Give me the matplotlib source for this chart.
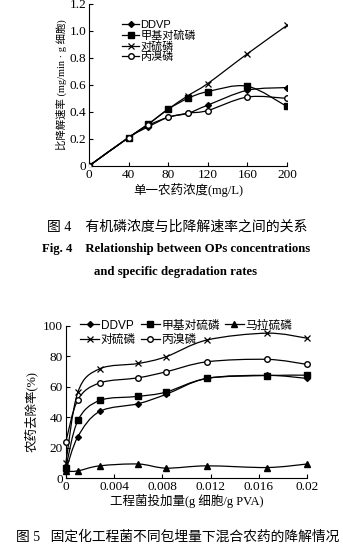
import numpy as np
import matplotlib
matplotlib.use('Agg')
from matplotlib import pyplot as plt
from matplotlib.path import Path
from matplotlib.patches import PathPatch
from matplotlib.lines import Line2D

plt.rcParams['font.family'] = ['Liberation Serif', 'Noto Sans CJK SC', 'DejaVu Sans']

# Fig.4 data
conc = [0, 40, 60, 80, 100, 120, 160, 200]
ddvp4 = [0, 0.21, 0.29, 0.36, 0.39, 0.45, 0.56, 0.58]
mps4 = [0, 0.21, 0.31, 0.42, 0.50, 0.55, 0.59, 0.44]
ps4 = [0, 0.21, 0.31, 0.42, 0.52, 0.61, 0.83, 1.04]
prof4 = [0, 0.21, 0.30, 0.36, 0.39, 0.41, 0.51, 0.50]
names4 = ['DDVP', '甲基对硫磷', '对硫磷', '丙溴磷']

# Fig.5 data
dose = [0, 0.001, 0.0028, 0.006, 0.0083, 0.0117, 0.0167, 0.02]
ddvp5 = [5, 27.3, 43.8, 48.9, 55, 65.5, 67.5, 65.5]
mps5 = [7, 37.9, 51, 53.7, 56.5, 65.5, 67.4, 67.6]
mal5 = [4.4, 4.8, 8.1, 9.3, 6.6, 8.1, 7, 9.3]
ps5 = [10, 56.6, 71.8, 75.3, 79.7, 90.7, 95.2, 91.9]
prof5 = [24, 51.5, 62.5, 65.9, 69.8, 76.4, 78, 74.7]
names5 = ['DDVP', '甲基对硫磷', '马拉硫磷', '对硫磷', '丙溴磷']

x_ticks4 = [0, 40, 80, 120, 160, 200]
y_ticks4 = [0, 0.2, 0.4, 0.6, 0.8, 1.0, 1.2]
y_labels4 = ['0', '0.2', '0.4', '0.6', '0.8', '1.0', '1.2']
x_ticks5 = [0, 0.004, 0.008, 0.012, 0.016, 0.02]
x_labels5 = ['0', '0.004', '0.008', '0.012', '0.016', '0.02']
y_ticks5 = [0, 20, 40, 60, 80, 100]


def smooth(ax, x, y, **kw):
    # Excel-like smoothed line drawn as cubic bezier segments
    x = np.asarray(x, float)
    y = np.asarray(y, float)
    verts = [(x[0], y[0])]
    codes = [Path.MOVETO]
    t = 1 / 6
    n = len(x)
    for i in range(n - 1):
        x0, y0 = (x[i - 1], y[i - 1]) if i > 0 else (x[i], y[i])
        x3, y3 = (x[i + 2], y[i + 2]) if i + 2 < n else (x[i + 1], y[i + 1])
        c1 = (x[i] + (x[i + 1] - x0) * t, y[i] + (y[i + 1] - y0) * t)
        c2 = (x[i + 1] - (x3 - x[i]) * t, y[i + 1] - (y3 - y[i]) * t)
        verts += [c1, c2, (x[i + 1], y[i + 1])]
        codes += [Path.CURVE4] * 3
    ax.add_patch(PathPatch(Path(verts, codes), fill=False, lw=0.9, color='black', **kw))


def style(ax):
    for s in ['top', 'right']:
        ax.spines[s].set_visible(False)
    ax.tick_params(direction='in', length=3, width=0.8, labelsize=9.5, pad=2)


fig = plt.figure(figsize=(3.43, 5.44), dpi=100)

# ---- Fig 4
ax1 = fig.add_axes([0.2595, 0.695, 0.577, 0.298])
marks4 = [dict(marker='D', ms=3, mfc='black'),
          dict(marker='s', ms=4, mfc='black'),
          dict(marker='x', ms=4, mew=0.9),
          dict(marker='o', ms=4, mfc='white')]
handles = []
for ys, m in zip([ddvp4, mps4, ps4, prof4], marks4):
    smooth(ax1, conc, ys)
    ax1.plot(conc, ys, ls='none', color='black', zorder=3, **m)
    handles.append(Line2D([], [], color='black', lw=0.9, **m))
ax1.set_xlim(0, 200)
ax1.set_ylim(0, 1.2)
ax1.set_xticks(x_ticks4)
ax1.set_yticks(y_ticks4)
ax1.set_yticklabels(y_labels4)
style(ax1)
leg = ax1.legend(handles, names4, loc='upper left', bbox_to_anchor=(0.14, 0.935), frameon=False,
                 fontsize=8, handlelength=1.5, handletextpad=0.15, labelspacing=0.0,
                 borderpad=0)
for t in leg.get_texts():
    t.set_family(['Liberation Sans', 'Noto Sans CJK SC'])
ax1.set_ylabel('比降解速率 (mg/min · g 细胞)', fontsize=7.5, labelpad=4)
ax1.yaxis.set_label_coords(-0.11, 0.5)
ax1.set_xlabel('单一农药浓度(mg/L)', fontsize=9, labelpad=2)

fig.text(0.516, 0.583, '图 4    有机磷浓度与比降解速率之间的关系', ha='center', va='center', fontsize=10)
fig.text(0.122, 0.542, 'Fig. 4    Relationship between OPs concentrations', ha='left', va='center',
         fontsize=9.2, fontweight='bold')
fig.text(0.513, 0.5, 'and specific degradation rates', ha='center', va='center',
         fontsize=9.2, fontweight='bold')

# ---- Fig 5
ax2 = fig.add_axes([0.192, 0.121, 0.703, 0.28])
marks5 = [dict(marker='D', ms=3, mfc='black'),
          dict(marker='s', ms=4, mfc='black'),
          dict(marker='^', ms=4.5, mfc='black'),
          dict(marker='x', ms=4, mew=0.9),
          dict(marker='o', ms=4, mfc='white')]
h5 = []
for ys, m in zip([ddvp5, mps5, mal5, ps5, prof5], marks5):
    smooth(ax2, dose, ys, clip_on=False)
    ax2.plot(dose, ys, ls='none', color='black', zorder=3, clip_on=False, **m)
    h5.append(Line2D([], [], color='black', lw=0.9, **m))
ax2.set_xlim(0, 0.02)
ax2.set_ylim(0, 100)
ax2.set_xticks(x_ticks5)
ax2.set_xticklabels(x_labels5)
ax2.set_yticks(y_ticks5)
style(ax2)
order = [0, 3, 1, 4, 2]
leg2 = ax2.legend([h5[i] for i in order], [names5[i] for i in order], ncol=3, loc='upper left',
                  bbox_to_anchor=(0.035, 1.08), frameon=False, fontsize=8.5, handlelength=1.6,
                  handletextpad=0.15, labelspacing=0.2, columnspacing=0.4, borderpad=0)
for t in leg2.get_texts():
    t.set_family(['Liberation Sans', 'Noto Sans CJK SC'])
ax2.set_ylabel('农药去除率(%)', fontsize=9, labelpad=4)
ax2.yaxis.set_label_coords(-0.115, 0.44)
ax2.set_xlabel('工程菌投加量(g 细胞/g PVA)', fontsize=9, labelpad=1)

fig.text(0.518, 0.013, '图 5   固定化工程菌不同包埋量下混合农药的降解情况', ha='center', va='center',
         fontsize=9.9)

fig.savefig('out.png', dpi=100)
